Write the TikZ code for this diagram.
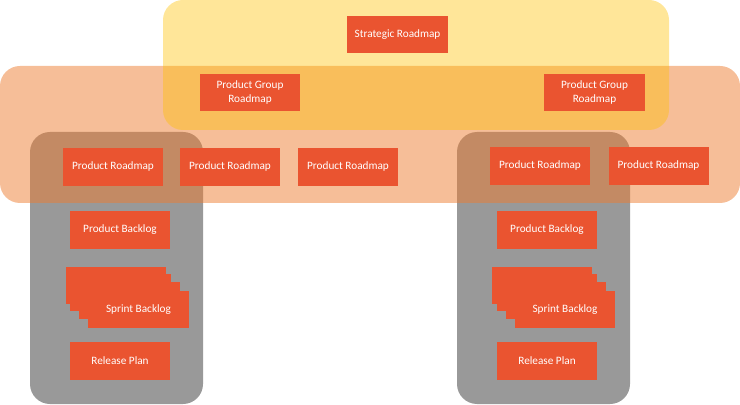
\documentclass[tikz,border=0pt]{standalone}
\usepackage{fontspec}
\setmainfont{Carlito}
\definecolor{roadred}{HTML}{EA5430}
\definecolor{layerorange}{HTML}{ED7D31}
\definecolor{layergold}{HTML}{FFC000}
\definecolor{layergray}{HTML}{999999}

\begin{document}
\begin{tikzpicture}[x=0.025cm, y=-0.025cm,
  item/.style={fill=roadred, text=white, font=\fontsize{8}{10}\selectfont, minimum width=2.5cm, minimum height=0.925cm, inner sep=1pt, align=center},
  layer/.style={rounded corners=0.5cm}]
  \useasboundingbox (0,0) rectangle (740,405);

  % Team layers (grey), product layer (orange), strategy layer (gold)
  \fill[layer, layergray] (30,132) rectangle (203,404);
  \fill[layer, layergray] (457,132) rectangle (630,404);
  \fill[layer, layerorange, fill opacity=0.5] (0,66) rectangle (740,203);
  \fill[layer, layergold, fill opacity=0.4] (163,0) rectangle (669,130);

  % Top: strategy
  \node[item] (strategic) at (397.5,34.5) {Strategic Roadmap};

  % Product groups
  \node[item] (groupL) at (250,92.5) {Product Group\\Roadmap};
  \node[item] (groupR) at (594.5,92.5) {Product Group\\Roadmap};

  % Products
  \node[item] (productA) at (113,167) {Product Roadmap};
  \node[item] (productB) at (230,167) {Product Roadmap};
  \node[item] (productC) at (348,167) {Product Roadmap};
  \node[item] (productD) at (540,166) {Product Roadmap};
  \node[item] (productE) at (658.5,166) {Product Roadmap};

  % Left team
  \node[item] (backlogL) at (120,230) {Product Backlog};
  \foreach \dx/\dy [count=\i] in {-22.7/-24, -18/-17.3, -9/-9}
    \node[item] (sheetL\i) at ({138.5+\dx},{309.8+\dy}) {};
  \node[item] (sprintL) at (138.5,309.8) {Sprint Backlog};
  \node[item] (releaseL) at (120,361) {Release Plan};

  % Right team
  \node[item] (backlogR) at (547,230) {Product Backlog};
  \foreach \dx/\dy [count=\i] in {-22.7/-24, -18/-17.3, -9/-9}
    \node[item] (sheetR\i) at ({565+\dx},{309.8+\dy}) {};
  \node[item] (sprintR) at (565,309.8) {Sprint Backlog};
  \node[item] (releaseR) at (547,361) {Release Plan};
\end{tikzpicture}
\end{document}
